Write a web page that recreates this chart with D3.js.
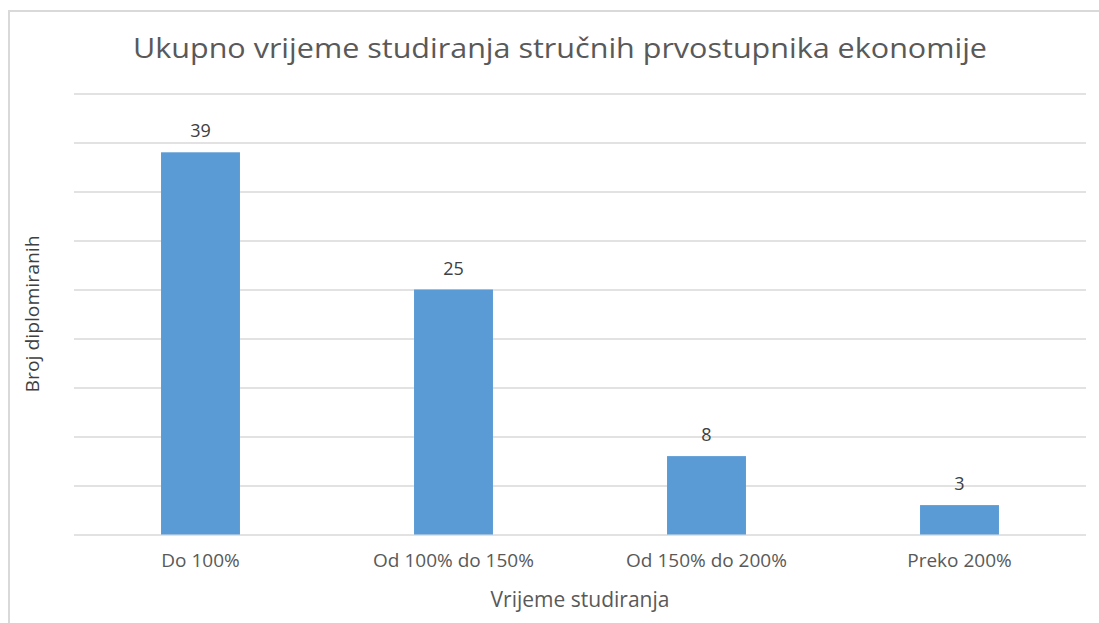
<!DOCTYPE html>
<html>
<head>
<meta charset="utf-8">
<script src="https://cdn.jsdelivr.net/npm/d3@7"></script>
<style>
  body { margin: 0; background: #fff; }
  text { font-family: "Open Sans", "DejaVu Sans", sans-serif; }
</style>
</head>
<body>
<div id="viz"></div>
<script>
const categories = ["Do 100%", "Od 100% do 150%", "Od 150% do 200%", "Preko 200%"];
const values = [39, 25, 8, 3];
const yTicks = [0, 5, 10, 15, 20, 25, 30, 35, 40, 45];

const titleText = "Ukupno vrijeme studiranja stručnih prvostupnika ekonomije";
const xTitleText = "Vrijeme studiranja";
const yTitleText = "Broj diplomiranih";

const config = {
  svgWidth: 1099,
  svgHeight: 623,
  left: 74,
  right: 1086,
  top: 93.5,
  bottom: 534.5,
  barFill: "#5b9bd5",
  gridStroke: "#d9d9d9",
  textFill: "#595959",
};

const svg = d3
  .select("#viz")
  .append("svg")
  .attr("width", config.svgWidth)
  .attr("height", config.svgHeight);

// chart frame (only top and left edges are visible)
svg
  .append("path")
  .attr("d", "M9,623 V11 H1099")
  .attr("fill", "none")
  .attr("stroke", "#d9d9d9")
  .attr("stroke-width", 2);

const x = d3
  .scaleBand()
  .domain(categories)
  .range([config.left, config.right])
  .paddingInner(0.688)
  .paddingOuter(0.344);

const y = d3
  .scaleLinear()
  .domain([0, 45])
  .range([config.bottom, config.top]);

// gridlines
const yAxis = d3
  .axisLeft(y)
  .tickValues(yTicks)
  .tickSize(-(config.right - config.left))
  .tickFormat("");

svg
  .append("g")
  .attr("transform", `translate(${config.left},0)`)
  .call(yAxis)
  .call((g) => g.select(".domain").remove())
  .call((g) =>
    g.selectAll(".tick line").attr("stroke", config.gridStroke).attr("stroke-width", 1.3)
  );

// bars
svg
  .selectAll("rect.bar")
  .data(values)
  .join("rect")
  .attr("class", "bar")
  .attr("x", (d, i) => x(categories[i]))
  .attr("y", (d) => y(d))
  .attr("width", x.bandwidth())
  .attr("height", (d) => y(0) - y(d))
  .attr("fill", config.barFill);

// value labels
svg
  .selectAll("text.value")
  .data(values)
  .join("text")
  .attr("class", "value")
  .attr("x", (d, i) => x(categories[i]) + x.bandwidth() / 2)
  .attr("y", (d) => y(d) - 15)
  .attr("text-anchor", "middle")
  .attr("font-size", 18)
  .attr("fill", "#404040")
  .text((d) => d);

// category axis
const xAxis = d3.axisBottom(x).tickSize(0).tickPadding(19);

svg
  .append("g")
  .attr("transform", `translate(0,${config.bottom})`)
  .call(xAxis)
  .call((g) => g.select(".domain").remove())
  .call((g) =>
    g
      .selectAll(".tick text")
      .attr("font-size", 19)
      .attr("font-family", "\"Open Sans\", sans-serif")
      .attr("fill", config.textFill)
  );

// titles
svg
  .append("text")
  .attr("x", 560)
  .attr("y", 58)
  .attr("text-anchor", "middle")
  .attr("font-size", 28)
  .attr("fill", config.textFill)
  .attr("textLength", 854)
  .attr("lengthAdjust", "spacingAndGlyphs")
  .text(titleText);

svg
  .append("text")
  .attr("x", (config.left + config.right) / 2)
  .attr("y", 607)
  .attr("text-anchor", "middle")
  .attr("font-size", 21)
  .attr("fill", config.textFill)
  .text(xTitleText);

svg
  .append("text")
  .attr("transform", `translate(39,${(config.top + config.bottom) / 2}) rotate(-90)`)
  .attr("text-anchor", "middle")
  .attr("font-size", 18)
  .attr("fill", "#404040")
  .attr("textLength", 157)
  .attr("lengthAdjust", "spacingAndGlyphs")
  .text(yTitleText);
</script>
</body>
</html>
